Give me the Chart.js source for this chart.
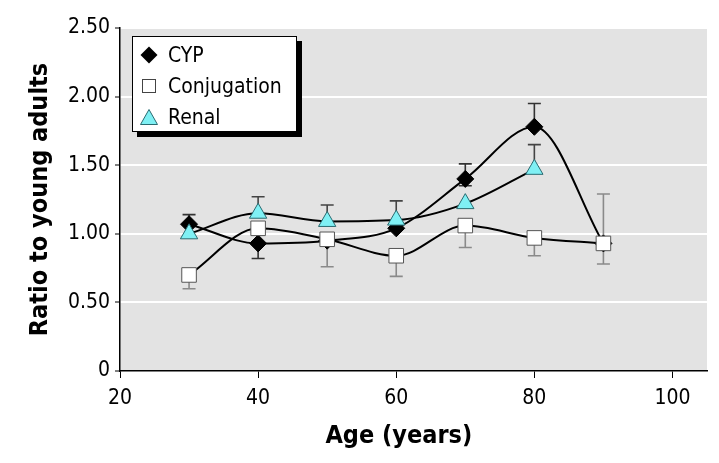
<!DOCTYPE html>
<html><head><meta charset="utf-8">
<script src="https://cdn.jsdelivr.net/npm/chart.js@4/dist/chart.umd.min.js"></script>
<style>
html,body{margin:0;padding:0;background:#fff;}
#wrap{position:relative;width:719px;height:463px;}
canvas{display:block;}
#legend{position:absolute;left:132px;top:36px;width:163px;height:94px;background:#fff;border:1px solid #000;box-shadow:5px 5px 0 #000;
 font-family:'Liberation Sans Narrow','DejaVu Sans Condensed','Roboto Condensed',sans-serif;font-size:21px;color:#000;}
.row{position:absolute;left:0;height:32px;}
.row svg{position:absolute;left:6px;top:6px;}
.row span{position:absolute;left:35px;white-space:nowrap;line-height:32px;top:0;}
</style>
</head><body>
<div id="wrap">
<canvas id="c" width="719" height="463"></canvas>
<div id="legend"></div>
</div>
<script>
// ---- data ----
const cypAges = [30, 40, 50, 60, 70, 80, 90];
const cypValues = [1.07, 0.93, 0.95, 1.04, 1.40, 1.78, 0.93];
const cypHigh = [1.14, null, null, null, 1.51, 1.95, null];
const cypLow = [null, 0.82, null, null, 1.35, null, null];

const conjAges = [30, 40, 50, 60, 70, 80, 90];
const conjValues = [0.70, 1.04, 0.96, 0.84, 1.06, 0.97, 0.93];
const conjHigh = [null, null, null, null, null, null, 1.29];
const conjLow = [0.60, null, 0.76, 0.69, 0.90, 0.84, 0.78];

const renalAges = [30, 40, 50, 60, 70, 80];
const renalValues = [1.00, 1.15, 1.09, 1.10, 1.22, 1.47];
const renalHigh = [null, 1.27, 1.21, 1.24, null, 1.65];
const renalLow = [null, null, null, null, null, null];

const seriesLabels = ['CYP', 'Conjugation', 'Renal'];
const xTickValues = [20, 40, 60, 80, 100];
const yTickLabels = ['0', '0.50', '1.00', '1.50', '2.00', '2.50'];
const xTitle = 'Age (years)';
const yTitle = 'Ratio to young adults';

// ---- build ----
const FONT = "'Liberation Sans Narrow','DejaVu Sans Condensed','Roboto Condensed',sans-serif";
Chart.defaults.font.family = FONT;
Chart.defaults.color = '#000';

const toXY = (ages, vals) => ages.map((a, i) => ({x: a, y: vals[i]}));

const series = [
  {label: seriesLabels[0], ages: cypAges, values: cypValues, high: cypHigh, low: cypLow,
   style: 'rectRot', radius: 8.5, fill: '#000', border: '#000', err: '#333', order: 3},
  {label: seriesLabels[1], ages: conjAges, values: conjValues, high: conjHigh, low: conjLow,
   style: 'rect', radius: 10.3, fill: '#fff', border: '#555', err: '#8a8a8a', order: 2},
  {label: seriesLabels[2], ages: renalAges, values: renalValues, high: renalHigh, low: renalLow,
   style: 'triangle', radius: 10, fill: '#7ff0f4', border: '#2a6a70', err: '#444', order: 1}
];

const datasets = [];
series.forEach(s => {
  datasets.push({label: s.label + ' line', data: toXY(s.ages, s.values), borderColor: '#000', borderWidth: 2,
    cubicInterpolationMode: 'monotone', pointRadius: 0, fill: false, order: 10});
});
series.forEach(s => {
  datasets.push({label: s.label, data: toXY(s.ages, s.values), showLine: false, pointStyle: s.style,
    pointRadius: s.radius, pointBackgroundColor: s.fill, pointBorderColor: s.border, pointBorderWidth: 1,
    order: s.order});
});

const bgPlugin = {
  id: 'bg',
  beforeDraw(chart) {
    const {ctx, chartArea: a} = chart;
    ctx.save(); ctx.fillStyle = '#e3e3e3';
    ctx.fillRect(a.left, a.top, a.right - a.left, a.bottom - a.top);
    ctx.restore();
  }
};
const errPlugin = {
  id: 'errBars',
  beforeDatasetsDraw(chart) {
    const {ctx} = chart; const x = chart.scales.x, y = chart.scales.y;
    const cap = 6.5;
    ctx.save(); ctx.lineWidth = 1.6;
    series.forEach(s => {
      ctx.strokeStyle = s.err;
      s.ages.forEach((a, i) => {
        const px = x.getPixelForValue(a), py = y.getPixelForValue(s.values[i]);
        [s.high[i], s.low[i]].forEach(v => {
          if (v == null) return;
          const pv = y.getPixelForValue(v);
          ctx.beginPath(); ctx.moveTo(px, py); ctx.lineTo(px, pv);
          ctx.moveTo(px - cap, pv); ctx.lineTo(px + cap, pv); ctx.stroke();
        });
      });
    });
    ctx.restore();
  }
};
const xTitlePlugin = {
  id: 'xTitle',
  afterDraw(chart) {
    const {ctx, chartArea: a} = chart;
    ctx.save();
    ctx.font = 'bold 25px ' + FONT; ctx.fillStyle = '#000';
    ctx.textAlign = 'center'; ctx.textBaseline = 'middle';
    ctx.fillText(xTitle, a.left + (a.right - a.left) * 0.475, 436);
    ctx.restore();
  }
};

new Chart(document.getElementById('c'), {
  type: 'line',
  data: {datasets},
  plugins: [bgPlugin, errPlugin, xTitlePlugin],
  options: {
    responsive: false, animation: false, devicePixelRatio: 1,
    layout: {padding: {top: 28, right: 12, left: 0, bottom: 0}},
    plugins: {legend: {display: false}, tooltip: {enabled: false}},
    scales: {
      x: {
        type: 'linear', min: 20, max: 105,
        afterBuildTicks: sc => { sc.ticks = xTickValues.map(v => ({value: v})); },
        afterFit: sc => { sc.height = 92; },
        ticks: {font: {size: 21}, color: '#000', padding: 8, maxRotation: 0, autoSkip: false},
        grid: {drawOnChartArea: false, drawTicks: true, tickLength: 7, tickColor: '#000', color: '#000'},
        border: {color: '#000', width: 1.5},
        title: {display: false}
      },
      y: {
        min: 0, max: 2.5,
        afterBuildTicks: sc => { sc.ticks = yTickLabels.map((t, i) => ({value: i * 0.5})); },
        afterFit: sc => { sc.width = 120; },
        ticks: {font: {size: 21}, color: '#000', padding: 5, callback: (v, i) => yTickLabels[i]},
        grid: {color: c => (c.tick && c.tick.value === 0) ? 'rgba(0,0,0,0)' : '#ffffff', lineWidth: 2,
               tickColor: '#000', tickLength: 5, tickWidth: 1},
        border: {color: '#000', width: 1.5},
        title: {display: true, text: yTitle, font: {size: 25, weight: 'bold'}, color: '#000', padding: {top: 25, bottom: 0}}
      }
    }
  }
});

// ---- legend (HTML, from series) ----
const icons = {
  rectRot: '<svg width="20" height="20"><polygon points="10,1.5 18.5,10 10,18.5 1.5,10" fill="#000"/></svg>',
  rect: '<svg width="20" height="20"><rect x="3.5" y="3.5" width="13" height="13" fill="#fff" stroke="#444" stroke-width="1"/></svg>',
  triangle: '<svg width="20" height="20"><polygon points="10,2.5 18.5,17.5 1.5,17.5" fill="#7ff0f4" stroke="#2a6a70" stroke-width="1"/></svg>'
};
const leg = document.getElementById('legend');
series.forEach((s, i) => {
  const r = document.createElement('div');
  r.className = 'row'; r.style.top = (2 + i * 31) + 'px';
  r.innerHTML = icons[s.style] + '<span>' + s.label + '</span>';
  leg.appendChild(r);
});
</script>
</body></html>
